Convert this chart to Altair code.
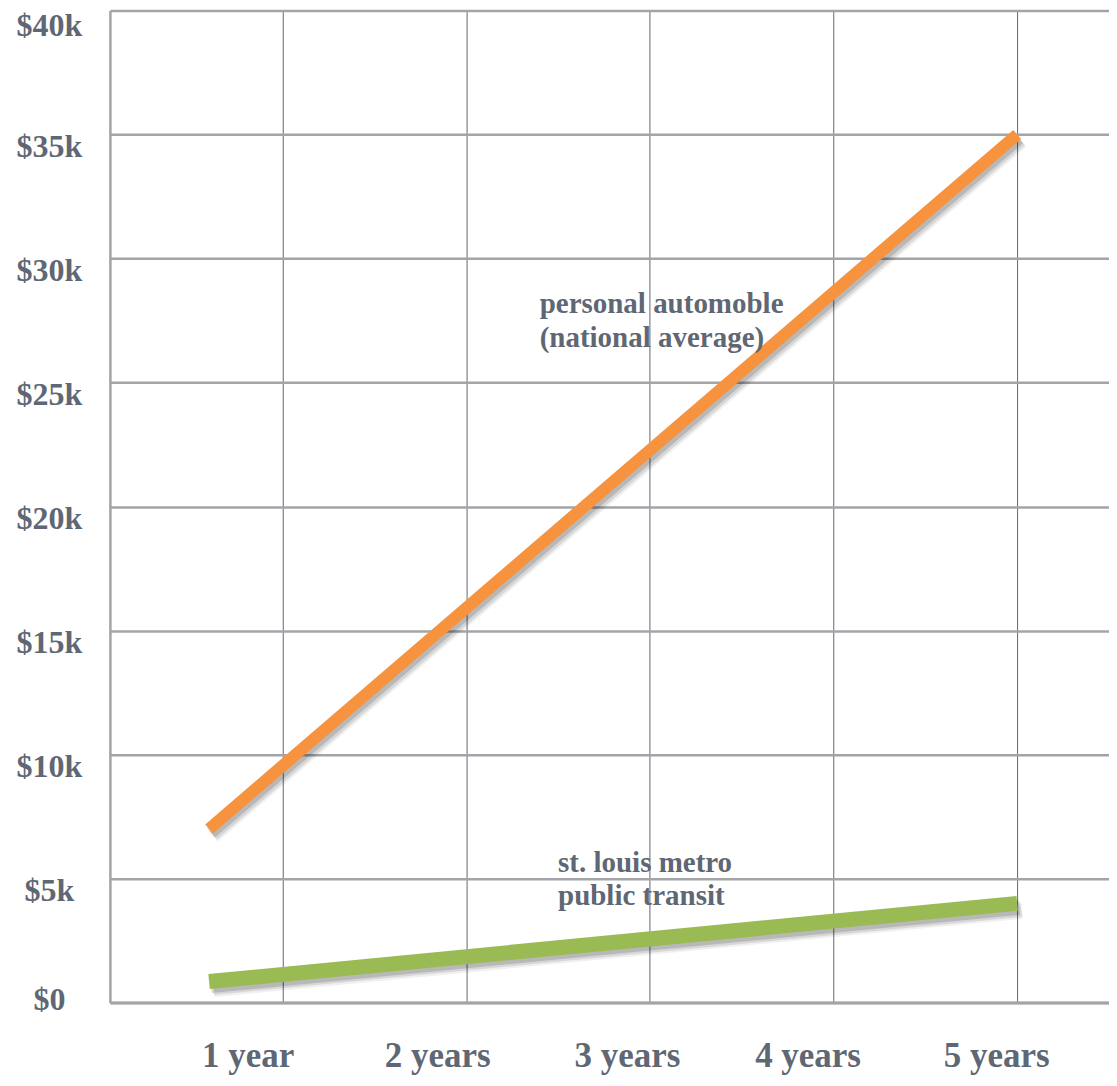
import altair as alt
import pandas as pd

# ---- data ----
series = ["personal automobile", "public transit"]
auto_years = [0.6, 5.0]
auto_cost = [7000, 35000]
transit_years = [0.6, 5.0]
transit_cost = [850, 4000]

x_tick_values = [1, 2, 3, 4, 5]
x_tick_labels = ["1 year", "2 years", "3 years", "4 years", "5 years"]
y_tick_values = [0, 5000, 10000, 15000, 20000, 25000, 30000, 35000, 40000]
y_tick_labels = ["$0", "$5k", "$10k", "$15k", "$20k", "$25k", "$30k", "$35k", "$40k"]

note_text = ["personal automoble", "(national average)", "st. louis metro", "public transit"]
note_year = [2.40, 2.40, 2.50, 2.50]
note_cost = [27800, 26430, 5280, 3950]

line_colors = ["#F7933E", "#9ABB53"]
line_widths = [8, 11]
text_color = "#5E6773"

df = pd.DataFrame({
    "series": [series[0]] * len(auto_years) + [series[1]] * len(transit_years),
    "year": auto_years + transit_years,
    "cost": auto_cost + transit_cost,
})
notes = pd.DataFrame({"year": note_year, "cost": note_cost, "text": note_text})

x_label_expr = "[" + ",".join(f"'{t}'" for t in x_tick_labels) + "][datum.value - 1]"
y_label_expr = "{" + ",".join(f"'{v}': '{t}'" for v, t in zip(y_tick_values, y_tick_labels)) + "}[datum.value + '']"

x_label_shift = [-35, -29, -23, -26, -21]

x_enc = alt.X(
    "year:Q",
    title=None,
    scale=alt.Scale(domain=[0.06, 5.5], nice=False, zero=False),
    axis=alt.Axis(
        values=x_tick_values, labelExpr=x_label_expr, grid=True,
        gridColor="#5F6873", gridWidth=1, domain=True, domainColor="#A2A4A8",
        domainWidth=3, ticks=False, tickSize=0, labelPadding=36,
        labelFontSize=35, labelAlign="center",
        labelOffset={"condition": [
            {"test": f"datum.value == {v}", "value": s} for v, s in zip(x_tick_values, x_label_shift)
        ], "value": -27},
    ),
)
y_enc = alt.Y(
    "cost:Q",
    title=None,
    scale=alt.Scale(domain=[0, 40000], nice=False),
    axis=alt.Axis(
        values=y_tick_values, labelExpr=y_label_expr, grid=True,
        gridColor="#A2A4A8", gridWidth=2.5, domain=True, domainColor="#A2A4A8",
        domainWidth=2.5, ticks=False, tickSize=0, labelPadding=61,
        labelFontSize=32, labelAlign="center", labelBaseline="middle",
        labelOffset={"condition": [
            {"test": "datum.value == 0", "value": -3},
            {"test": "datum.value == 40000", "value": 15},
        ], "value": 12},
    ),
)

sw = alt.StrokeWidth("series:N", scale=alt.Scale(domain=series, range=line_widths), legend=None)
sw_wide = alt.StrokeWidth("series:N", scale=alt.Scale(domain=series, range=[w + 4 for w in line_widths]), legend=None)

base = alt.Chart(df).encode(x=x_enc, y=y_enc, detail="series:N")

shadow1 = base.mark_line(color="#000000", opacity=0.06, xOffset=5, yOffset=8, strokeCap="butt").encode(strokeWidth=sw_wide)
shadow2 = base.mark_line(color="#000000", opacity=0.10, xOffset=4, yOffset=6, strokeCap="butt").encode(strokeWidth=sw)
shadow3 = base.mark_line(color="#000000", opacity=0.14, xOffset=2, yOffset=4, strokeCap="butt").encode(strokeWidth=sw)
lines = base.mark_line(strokeCap="butt").encode(
    color=alt.Color("series:N", scale=alt.Scale(domain=series, range=line_colors), legend=None),
    strokeWidth=sw,
)

texts = alt.Chart(notes).mark_text(
    align="left", baseline="alphabetic", font="Liberation Serif",
    fontWeight="bold", fontSize=29, color=text_color,
).encode(x=x_enc, y=y_enc, text="text:N")

chart = alt.layer(shadow1, shadow2, shadow3, lines, texts).properties(
    width=1000, height=993,
    autosize=alt.AutoSizeParams(type="none"),
    padding={"left": 102, "top": 2, "right": 0, "bottom": 75},
).configure_view(strokeWidth=0).configure_axis(
    labelFont="Liberation Serif", labelFontWeight="bold", labelColor=text_color,
)

chart.save("out.html", embed_options={"renderer": "svg", "actions": False})
